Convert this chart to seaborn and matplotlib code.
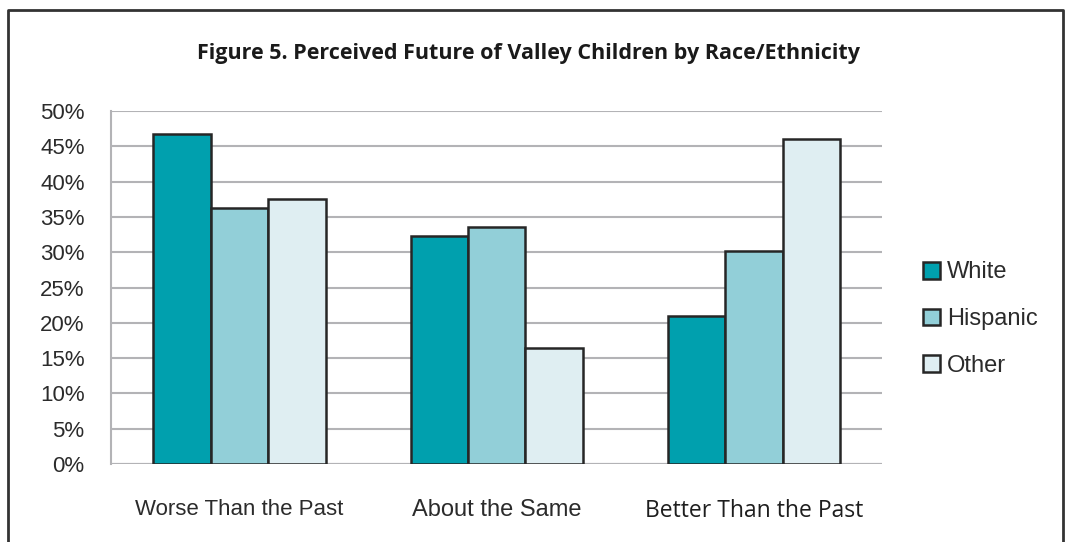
import matplotlib
matplotlib.use("Agg")
import matplotlib.pyplot as plt
from matplotlib.ticker import FuncFormatter
import seaborn as sns
import pandas as pd

categories = ["Worse Than the Past", "About the Same", "Better Than the Past"]
groups = ["White", "Hispanic", "Other"]
white = [46.8, 32.3, 20.9]
hispanic = [36.2, 33.6, 30.2]
other = [37.5, 16.4, 46.1]
yticks = list(range(0, 51, 5))
colors = ["#00A0AE", "#92CFD8", "#DFEEF2"]

df = pd.DataFrame({
    "Outlook": categories * 3,
    "Group": [g for g in groups for _ in categories],
    "Percent": white + hispanic + other,
})

sns.set_theme(style="white")
plt.rcParams["font.family"] = ["Liberation Sans", "DejaVu Sans"]

fig = plt.figure(figsize=(10.67, 5.42), dpi=100)
ax = fig.add_axes([0.104, 0.144, 0.723, 0.651])

sns.barplot(data=df, x="Outlook", y="Percent", hue="Group", order=categories,
            hue_order=groups, palette=colors, saturation=1, width=0.67, gap=0,
            edgecolor="#262626", linewidth=1.8, ax=ax, legend=True, zorder=3)

ax.set_ylim(0, 50)
ax.set_xlim(-0.5, 2.5)
ax.set_yticks(yticks)
ax.yaxis.set_major_formatter(FuncFormatter(lambda v, _: f"{int(v)}%"))
ax.yaxis.grid(True, color="#b3b3b6", linewidth=1.5, zorder=0)
ax.set_axisbelow(True)
for s in ["top", "right", "bottom"]:
    ax.spines[s].set_visible(False)
ax.spines["left"].set_color("#b3b3b6")
ax.spines["left"].set_linewidth(1.5)
ax.axhline(0, color="#b3b3b6", linewidth=1.5, zorder=2)
ax.tick_params(axis="both", length=0, colors="#2b2b2b", labelsize=16)
ax.tick_params(axis="y", pad=19)
ax.tick_params(axis="x", pad=25)
ax.set_xlabel("")
ax.set_ylabel("")
for lbl in ax.get_xticklabels():
    if lbl.get_text() == "Better Than the Past":
        lbl.set_family(["Open Sans", "DejaVu Sans"])
        lbl.set_fontsize(16.5)
        lbl.set_color("#1e1e1e")
    elif lbl.get_text() == "About the Same":
        lbl.set_fontsize(17)

handles, labels = ax.get_legend_handles_labels()
ax.legend(handles, labels, loc="center left", bbox_to_anchor=(1.025, 0.41),
          frameon=False, fontsize=17, handlelength=0.72, handleheight=0.72,
          handletextpad=0.3, labelspacing=1.05, labelcolor="#2b2b2b")

fig.text(0.495, 0.902, "Figure 5. Perceived Future of Valley Children by Race/Ethnicity",
         ha="center", va="center", fontsize=15.5, fontweight="bold", color="#1a1a1a",
         family=["Open Sans", "DejaVu Sans"])

# outer frame, open at the bottom
fx0, fx1, fy1 = 8 / 1067, 1063 / 1067, 1 - 10 / 542
fig.add_artist(plt.Line2D([fx0, fx0, fx1, fx1], [0, fy1, fy1, 0],
                          transform=fig.transFigure, color="#333333", linewidth=2))

fig.savefig("out.png", dpi=100, facecolor="white")
